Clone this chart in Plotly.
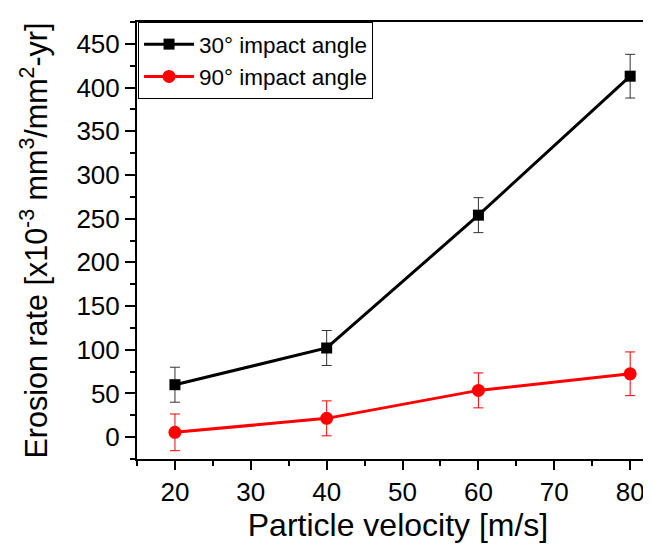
import plotly.graph_objects as go

velocity = [20, 40, 60, 80]
rate_30 = [60, 102, 254, 413]
err_30 = [20, 20, 20, 25]
rate_90 = [5.5, 21.5, 53.5, 72.5]
err_90 = [21, 20, 20, 25]
x_ticks = [20, 30, 40, 50, 60, 70, 80]
y_ticks = [0, 50, 100, 150, 200, 250, 300, 350, 400, 450]

FONT = "Liberation Sans, Arial, sans-serif"

fig = go.Figure()
fig.add_trace(go.Scatter(
    x=velocity, y=rate_30, name="30° impact angle", mode="lines+markers",
    line=dict(color="black", width=3),
    marker=dict(symbol="square", size=11, color="black"),
    error_y=dict(type="data", array=err_30, visible=True, color="#333333", thickness=1, width=5),
))
fig.add_trace(go.Scatter(
    x=velocity, y=rate_90, name="90° impact angle", mode="lines+markers",
    line=dict(color="#ff0000", width=3),
    marker=dict(symbol="circle", size=13, color="#ff0000"),
    error_y=dict(type="data", array=err_90, visible=True, color="#ff0000", thickness=1, width=5),
))

fig.update_layout(
    width=651, height=545,
    margin=dict(l=129, r=0, t=14, b=94),
    paper_bgcolor="white", plot_bgcolor="white",
    font=dict(family=FONT, color="black"),
    showlegend=True,
    legend=dict(
        x=0.002, y=1, xanchor="left", yanchor="top",
        bordercolor="black", borderwidth=1, bgcolor="white",
        font=dict(size=22.5, family=FONT, color="black"),
        tracegroupgap=0, itemwidth=50,
    ),
)
fig.update_xaxes(
    range=[15, 83.8], tickvals=x_ticks,
    showgrid=False, zeroline=False,
    showline=True, linecolor="black", linewidth=2, mirror=True,
    ticks="outside", ticklen=9, tickwidth=2, tickcolor="black",
    minor=dict(dtick=5, tick0=15, ticks="outside", ticklen=5, tickwidth=2, tickcolor="black"),
    tickfont=dict(size=26, family=FONT),
    title=dict(text="Particle velocity [m/s]", font=dict(size=32, family=FONT), standoff=6),
)
fig.update_yaxes(
    range=[-25, 475], tickvals=y_ticks,
    showgrid=False, zeroline=False,
    showline=True, linecolor="black", linewidth=2,
    ticks="outside", ticklen=10, tickwidth=2, tickcolor="black",
    minor=dict(dtick=50, tick0=-25, ticks="outside", ticklen=5, tickwidth=2, tickcolor="black"),
    tickfont=dict(size=26, family=FONT),
    title=dict(text="Erosion rate [x10<sup>-3</sup> mm<sup>3</sup>/mm<sup>2</sup>-yr]",
               font=dict(size=30.5, family=FONT), standoff=20),
)

fig.write_html("out.html")
